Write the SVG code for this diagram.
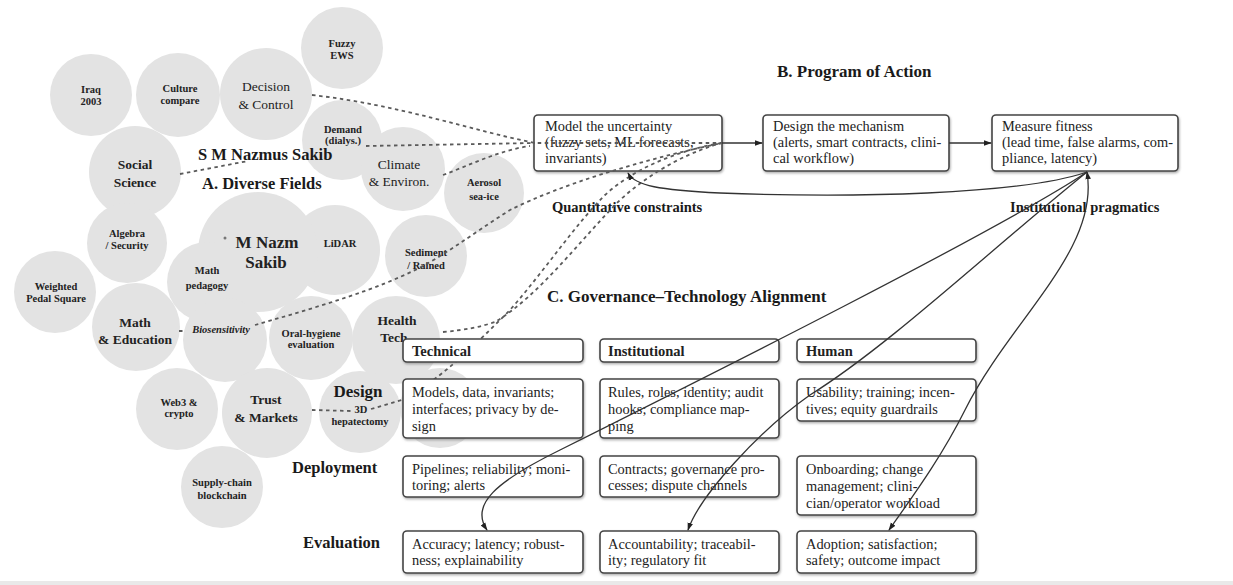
<svg xmlns="http://www.w3.org/2000/svg" width="1233" height="585" viewBox="0 0 1233 585">
  <style>
    .bub { fill: #e3e3e3; }
    .lbl { font-family: "Liberation Serif", serif; fill: #222; text-anchor: middle; }
    .sm { font-size: 10.5px; font-weight: bold; }
    .md { font-size: 13.5px; }
    .mdb { font-size: 13.5px; font-weight: bold; }
    .hd { font-family: "Liberation Serif", serif; font-weight: bold; fill: #1a1a1a; }
    .box { fill: #fff; stroke: #444; stroke-width: 1.6; filter: url(#sh); }
    .bt { font-family: "Liberation Serif", serif; font-size: 14.4px; fill: #222; }
    .bth { font-family: "Liberation Serif", serif; font-size: 14.5px; font-weight: bold; fill: #222; }
    .dash { fill: none; stroke: #5a5a5a; stroke-width: 1.8; stroke-dasharray: 3.5 3.5; }
    .solid { fill: none; stroke: #333; stroke-width: 1.3; }
  </style>
  <defs>
    <filter id="sh" x="-5%" y="-10%" width="110%" height="130%">
      <feDropShadow dx="0.8" dy="1.5" stdDeviation="0.8" flood-color="#777" flood-opacity="0.6"/>
    </filter>
    <marker id="ah" viewBox="0 0 10 10" refX="9" refY="5" markerUnits="userSpaceOnUse" markerWidth="8" markerHeight="8" orient="auto-start-reverse">
      <path d="M0,1.5 L10,5 L0,8.5 z" fill="#222"/>
    </marker>
  </defs>

  <rect x="0" y="581" width="1233" height="4" fill="#e9e9e9"/>

  <!-- A. bubble field of research areas -->
  <g id="bubbles">
    <g id="n-lidar"><circle class="bub" cx="335" cy="250" r="45"/><text class="lbl sm" x="340" y="247">LiDAR</text></g>
    <g id="n-core"><circle class="bub" cx="258" cy="252" r="60"/>
      <circle cx="225" cy="238" r="1.5" fill="#777"/>
      <text class="lbl" style="font-size:17px;font-weight:bold" x="267" y="248">M Nazm</text>
      <text class="lbl" style="font-size:17px;font-weight:bold" x="266" y="268">Sakib</text></g>
    <g id="n-iraq"><circle class="bub" cx="91" cy="95" r="41"/><text class="lbl sm" x="91" y="93">Iraq</text><text class="lbl sm" x="91" y="105">2003</text></g>
    <g id="n-culture"><circle class="bub" cx="178" cy="95" r="42"/><text class="lbl sm" x="180" y="92">Culture</text><text class="lbl sm" x="180" y="104">compare</text></g>
    <g id="n-decision"><circle class="bub" cx="266" cy="94" r="46"/><text class="lbl md" x="266" y="91">Decision</text><text class="lbl md" x="266" y="109">&amp; Control</text></g>
    <g id="n-fuzzy"><circle class="bub" cx="342" cy="48" r="41"/><text class="lbl sm" x="342" y="47">Fuzzy</text><text class="lbl sm" x="342" y="59">EWS</text></g>
    <g id="n-social"><circle class="bub" cx="135" cy="172" r="46"/><text class="lbl mdb" x="135" y="169">Social</text><text class="lbl mdb" x="135" y="187">Science</text></g>
    <g id="n-demand"><circle class="bub" cx="342" cy="140" r="40"/><text class="lbl sm" x="343" y="133">Demand</text><text class="lbl sm" x="343" y="144">(dialys.)</text></g>
    <g id="n-climate"><circle class="bub" cx="403" cy="169" r="42"/><text class="lbl md" x="399" y="169">Climate</text><text class="lbl md" x="399" y="186">&amp; Environ.</text></g>
    <g id="n-aerosol"><circle class="bub" cx="484" cy="193" r="40"/><text class="lbl sm" x="484" y="186">Aerosol</text><text class="lbl sm" x="484" y="200">sea-ice</text></g>
    <g id="n-algebra"><circle class="bub" cx="127" cy="243" r="40"/><text class="lbl sm" x="127" y="237">Algebra</text><text class="lbl sm" x="127" y="249">/ Security</text></g>
    <g id="n-pedal"><circle class="bub" cx="55" cy="292" r="41"/><text class="lbl sm" x="56" y="290">Weighted</text><text class="lbl sm" x="56" y="302">Pedal Square</text></g>
    <g id="n-pedagogy"><circle class="bub" cx="207" cy="282" r="40"/><text class="lbl sm" x="207" y="274">Math</text><text class="lbl sm" x="207" y="289">pedagogy</text></g>
    <g id="n-matheducation"><circle class="bub" cx="136" cy="327" r="44"/><text class="lbl mdb" x="135" y="327">Math</text><text class="lbl mdb" x="135" y="344">&amp; Education</text></g>
    <g id="n-biosens"><circle class="bub" cx="225" cy="340" r="42"/><text class="lbl sm" style="font-style:italic" x="221" y="333">Biosensitivity</text></g>
    <g id="n-oral"><circle class="bub" cx="311" cy="338" r="42"/><text class="lbl sm" x="311" y="337">Oral-hygiene</text><text class="lbl sm" x="311" y="348">evaluation</text></g>
    <g id="n-sediment"><circle class="bub" cx="426" cy="256" r="41"/><text class="lbl sm" x="426" y="256">Sediment</text><text class="lbl sm" x="426" y="269">/ Rained</text></g>
    <g id="n-extra"><circle class="bub" cx="440" cy="408" r="40"/></g>
    <g id="n-health"><circle class="bub" cx="396" cy="340" r="44"/><text class="lbl mdb" x="397" y="325">Health</text><text class="lbl mdb" x="394" y="342">Tech</text></g>
    <g id="n-web3"><circle class="bub" cx="177" cy="409" r="41"/><text class="lbl sm" x="179" y="406">Web3 &amp;</text><text class="lbl sm" x="179" y="417">crypto</text></g>
    <g id="n-trust"><circle class="bub" cx="267" cy="413" r="45"/><text class="lbl mdb" x="266" y="404">Trust</text><text class="lbl mdb" x="266" y="422">&amp; Markets</text></g>
    <g id="n-hepatectomy"><circle class="bub" cx="360" cy="412" r="41"/><text class="lbl sm" x="361" y="413">3D</text><text class="lbl sm" x="360" y="425">hepatectomy</text></g>
    <g id="n-supply"><circle class="bub" cx="222" cy="487" r="41"/><text class="lbl sm" x="222" y="486">Supply-chain</text><text class="lbl sm" x="222" y="499">blockchain</text></g>
  </g>

  <g id="titles">
    <text class="hd" style="font-size:16.5px" x="198" y="160">S M Nazmus Sakib</text>
    <text class="hd" style="font-size:16.5px" x="202" y="189">A. Diverse Fields</text>
    <text class="hd" style="font-size:17px" x="777" y="77">B. Program of Action</text>
    <text class="hd" style="font-size:17px" x="547" y="302">C. Governance–Technology Alignment</text>
    <text class="hd" style="font-size:14.5px" x="552" y="212">Quantitative constraints</text>
    <text class="hd" style="font-size:14.5px" x="1010" y="212">Institutional pragmatics</text>
    <text class="hd" style="font-size:17px" text-anchor="middle" x="358" y="397">Design</text>
    <text class="hd" style="font-size:16.5px" x="292" y="473">Deployment</text>
    <text class="hd" style="font-size:16.5px" x="303" y="548">Evaluation</text>
  </g>

  <!-- B. program of action: first step -->
  <g id="n-model">
    <rect class="box" x="534" y="115" width="188" height="56" rx="4"/>
    <text class="bt" x="545" y="131">Model the uncertainty</text>
    <text class="bt" x="545" y="147">(fuzzy sets, ML forecasts,</text>
    <text class="bt" x="545" y="163">invariants)</text>
  </g>

  <!-- dashed links from fields to the program -->
  <g id="links-dashed">
    <path class="dash" d="M180,174 L248,161"/>
    <path class="dash" d="M312,95 C400,105 470,130 535,143 L722,143"/>
    <path class="dash" d="M366,146 L535,143"/>
    <path class="dash" d="M443,175 C470,165 500,150 530,146"/>
    <path class="dash" d="M179,331 h5 M255,325 C300,312 360,295 400,277 C440,260 470,235 510,210 C560,185 640,160 722,143"/>
    <path class="dash" d="M443,332 C465,330 480,327 495,322 C540,295 580,240 620,200 C655,168 695,150 722,143"/>
    <path class="dash" d="M312,410 L351,411 M371,409 L402,400 C440,380 475,345 510,310 C545,270 575,225 605,195 C640,163 690,148 722,143"/>
  </g>

  <g id="n-design">
    <rect class="box" x="763" y="115" width="186" height="56" rx="4"/>
    <text class="bt" x="773" y="131">Design the mechanism</text>
    <text class="bt" x="773" y="147">(alerts, smart contracts, clini-</text>
    <text class="bt" x="773" y="163">cal workflow)</text>
  </g>
  <g id="n-measure">
    <rect class="box" x="992" y="115" width="186" height="56" rx="4"/>
    <text class="bt" x="1002" y="131">Measure fitness</text>
    <text class="bt" x="1002" y="147">(lead time, false alarms, com-</text>
    <text class="bt" x="1002" y="163">pliance, latency)</text>
  </g>

  <!-- C. alignment matrix -->
  <g id="n-technical"><rect class="box" x="403" y="339" width="180" height="23" rx="4"/><text class="bth" x="412" y="356">Technical</text></g>
  <g id="n-institutional"><rect class="box" x="600" y="339" width="179" height="23" rx="4"/><text class="bth" x="608" y="356">Institutional</text></g>
  <g id="n-human"><rect class="box" x="797" y="339" width="179" height="23" rx="4"/><text class="bth" x="806" y="356">Human</text></g>

  <g id="n-tech-design"><rect class="box" x="403" y="379" width="180" height="59" rx="4"/>
    <text class="bt" x="412" y="397">Models, data, invariants;</text><text class="bt" x="412" y="414">interfaces; privacy by de-</text><text class="bt" x="412" y="431">sign</text></g>
  <g id="n-inst-design"><rect class="box" x="600" y="379" width="179" height="59" rx="4"/>
    <text class="bt" x="608" y="397">Rules, roles, identity; audit</text><text class="bt" x="608" y="414">hooks; compliance map-</text><text class="bt" x="608" y="431">ping</text></g>
  <g id="n-human-design"><rect class="box" x="797" y="379" width="179" height="42" rx="4"/>
    <text class="bt" x="806" y="397">Usability; training; incen-</text><text class="bt" x="806" y="414">tives; equity guardrails</text></g>

  <g id="n-tech-deploy"><rect class="box" x="403" y="456" width="180" height="41" rx="4"/>
    <text class="bt" x="412" y="474">Pipelines; reliability; moni-</text><text class="bt" x="412" y="490">toring; alerts</text></g>
  <g id="n-inst-deploy"><rect class="box" x="600" y="456" width="179" height="41" rx="4"/>
    <text class="bt" x="608" y="474">Contracts; governance pro-</text><text class="bt" x="608" y="490">cesses; dispute channels</text></g>
  <g id="n-human-deploy"><rect class="box" x="797" y="456" width="179" height="59" rx="4"/>
    <text class="bt" x="806" y="474">Onboarding; change</text><text class="bt" x="806" y="491">management; clini-</text><text class="bt" x="806" y="508">cian/operator workload</text></g>

  <g id="n-tech-eval"><rect class="box" x="403" y="531" width="180" height="42" rx="4"/>
    <text class="bt" x="412" y="549">Accuracy; latency; robust-</text><text class="bt" x="412" y="565">ness; explainability</text></g>
  <g id="n-inst-eval"><rect class="box" x="600" y="531" width="179" height="42" rx="4"/>
    <text class="bt" x="608" y="549">Accountability; traceabil-</text><text class="bt" x="608" y="565">ity; regulatory fit</text></g>
  <g id="n-human-eval"><rect class="box" x="797" y="531" width="179" height="42" rx="4"/>
    <text class="bt" x="806" y="549">Adoption; satisfaction;</text><text class="bt" x="806" y="565">safety; outcome impact</text></g>

  <!-- solid flow arrows -->
  <g id="links-solid">
    <path class="solid" d="M722,143 L762,143" marker-end="url(#ah)"/>
    <path class="solid" d="M949,143 L991,143" marker-end="url(#ah)"/>
    <path class="solid" d="M1087,172 C1020,195 850,198 720,193 C660,190 635,186 628,173" marker-end="url(#ah)"/>
    <path class="solid" d="M1087,172 C1000,230 700,380 560,450 C495,482 470,505 487,530" marker-end="url(#ah)"/>
    <path class="solid" d="M1087,172 C990,250 890,345 810,395 C760,430 700,495 688,530" marker-end="url(#ah)"/>
    <path class="solid" d="M1087,172 C1100,250 1010,320 965,410 C940,460 910,500 889,530" marker-start="url(#ah)" marker-end="url(#ah)"/>
  </g>
</svg>
